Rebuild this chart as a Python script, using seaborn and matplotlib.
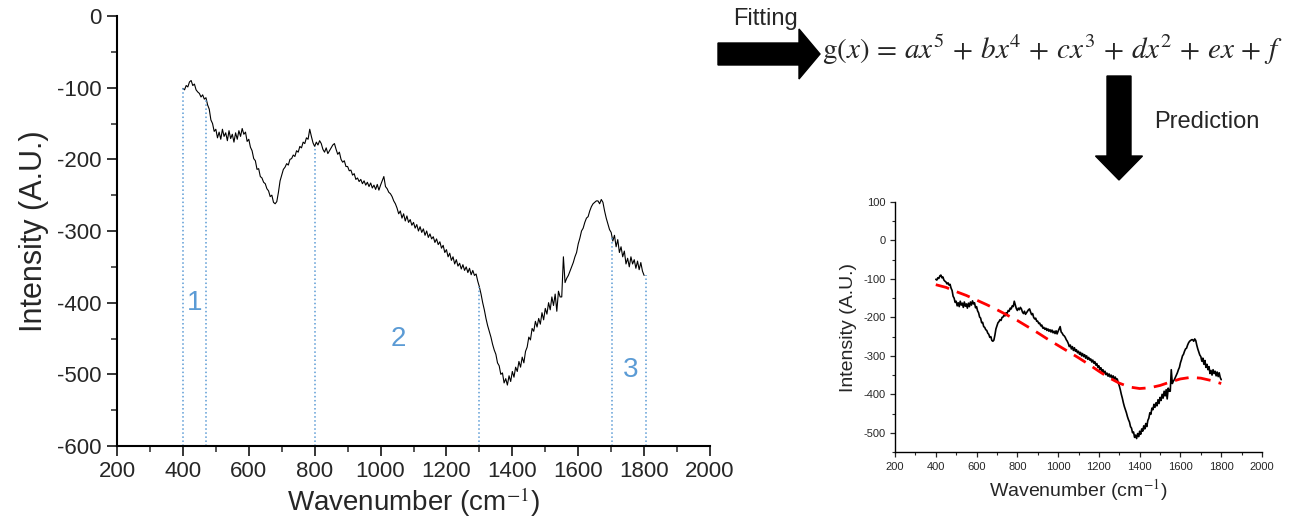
import numpy as np
import pandas as pd
import matplotlib
matplotlib.use('Agg')
import matplotlib.pyplot as plt
from matplotlib.patches import FancyArrow
from matplotlib.ticker import MultipleLocator
import seaborn as sns

# spectrum, every 5 cm-1 from 400 to 1800
wavenumber = np.arange(400, 1805, 5)
intensity = [
    -101, -103, -97, -99, -92, -90, -97, -95, -103, -106,
    -108, -113, -110, -116, -114, -124, -130, -145, -150, -161,
    -158, -170, -162, -172, -158, -168, -163, -174, -160, -171,
    -165, -176, -163, -172, -160, -168, -157, -165, -162, -175,
    -172, -183, -188, -199, -202, -214, -213, -224, -226, -232,
    -234, -241, -244, -252, -250, -260, -262, -259, -246, -230,
    -222, -214, -211, -206, -208, -200, -199, -194, -196, -188,
    -190, -182, -184, -176, -178, -170, -172, -158, -168, -177,
    -182, -176, -180, -174, -178, -186, -190, -184, -192, -188,
    -184, -180, -178, -186, -193, -190, -200, -204, -202, -210,
    -210, -216, -215, -222, -220, -228, -226, -231, -228, -234,
    -230, -236, -232, -238, -233, -240, -236, -242, -235, -243,
    -236, -230, -224, -238, -241, -246, -248, -252, -258, -262,
    -268, -276, -272, -282, -276, -286, -279, -288, -284, -292,
    -288, -296, -291, -300, -294, -302, -297, -306, -300, -309,
    -304, -311, -308, -316, -311, -319, -315, -324, -320, -330,
    -326, -336, -331, -341, -336, -346, -340, -349, -345, -353,
    -347, -355, -350, -358, -352, -361, -355, -362, -360, -370,
    -378, -388, -400, -410, -422, -432, -440, -448, -458, -466,
    -472, -484, -488, -500, -498, -512, -506, -515, -502, -510,
    -496, -504, -490, -496, -482, -490, -476, -484, -468, -462,
    -448, -452, -436, -440, -426, -434, -422, -430, -414, -424,
    -408, -416, -400, -410, -392, -404, -388, -412, -384, -392,
    -392, -336, -372, -366, -362, -356, -350, -344, -336, -330,
    -318, -310, -300, -296, -288, -282, -280, -272, -266, -262,
    -260, -258, -258, -262, -256, -260, -272, -282, -290, -298,
    -302, -314, -306, -322, -312, -330, -322, -336, -328, -346,
    -338, -350, -336, -346, -340, -352, -342, -354, -344, -356,
    -362,
]

# fitted polynomial (red dashed), read every 50 cm-1
fit_x = np.arange(400, 1850, 50)
fit_y = [-115, -122, -133, -143, -155, -167, -180, -194, -208, -224,
         -240, -257, -273, -289, -305, -322, -340, -357, -371, -381,
         -385, -383, -377, -368, -360, -356, -358, -364, -372]

# region boundaries and labels
bounds = [400, 470, 800, 1300, 1703, 1805]
region_labels = ['1', '2', '3']
region_x = [435, 1053, 1759]
region_y = [-401, -450, -494]

spec = pd.DataFrame({'x': wavenumber, 'y': intensity})
fit = pd.DataFrame({'x': fit_x, 'y': fit_y})

sns.set_style('white')
plt.rcParams['font.family'] = ['Liberation Sans', 'DejaVu Sans']
plt.rcParams['mathtext.fontset'] = 'stix'
plt.rcParams['axes.unicode_minus'] = False

fig = plt.figure(figsize=(12.99, 5.18), dpi=100)

# main spectrum
ax = fig.add_axes([117 / 1299, 1 - 446 / 518, 593 / 1299, 430 / 518])
sns.lineplot(data=spec, x='x', y='y', ax=ax, color='black', lw=0.8)
top = np.interp(bounds, wavenumber, intensity)
ax.vlines(bounds, -600, top, colors='#5B9BD5', linestyles=':', lw=1.1)
for lab, tx, ty in zip(region_labels, region_x, region_y):
    ax.text(tx, ty, lab, color='#5B9BD5', fontsize=20, ha='center', va='center')
ax.set_xlim(200, 2000)
ax.set_ylim(-600, 0)
ax.xaxis.set_major_locator(MultipleLocator(200))
ax.xaxis.set_minor_locator(MultipleLocator(100))
ax.yaxis.set_major_locator(MultipleLocator(100))
ax.yaxis.set_minor_locator(MultipleLocator(50))
ax.tick_params(which='major', direction='out', length=7, width=1.3, labelsize=16,
               left=True, bottom=True, pad=4)
ax.tick_params(which='minor', direction='out', length=4, width=1.1,
               left=True, bottom=True)
ax.set_xlabel('Wavenumber (cm$^{-1}$)', fontsize=20, labelpad=2)
ax.set_ylabel('Intensity (A.U.)', fontsize=22, labelpad=6)
sns.despine(ax=ax)
for s in ['left', 'bottom']:
    ax.spines[s].set_linewidth(1.5)
    ax.spines[s].set_color('black')

# predicted / fitted small plot
ax2 = fig.add_axes([895 / 1299, 1 - 452 / 518, 367 / 1299, 250 / 518])
sns.lineplot(data=spec, x='x', y='y', ax=ax2, color='black', lw=1.2)
sns.lineplot(data=fit, x='x', y='y', ax=ax2, color='#FF0000', lw=2,
             linestyle=(0, (5, 3)))
ax2.set_xlim(200, 2000)
ax2.set_ylim(-550, 100)
ax2.xaxis.set_major_locator(MultipleLocator(200))
ax2.xaxis.set_minor_locator(MultipleLocator(100))
ax2.yaxis.set_major_locator(MultipleLocator(100))
ax2.yaxis.set_minor_locator(MultipleLocator(50))
ax2.tick_params(which='major', direction='out', length=3.5, width=0.9, labelsize=8,
                left=True, bottom=True)
ax2.tick_params(which='minor', direction='out', length=2, width=0.8,
                left=True, bottom=True)
ax2.set_xlabel('Wavenumber (cm$^{-1}$)', fontsize=14)
ax2.set_ylabel('Intensity (A.U.)', fontsize=14)
sns.despine(ax=ax2)
for s in ['left', 'bottom']:
    ax2.spines[s].set_linewidth(1.0)
    ax2.spines[s].set_color('black')

# arrows and annotations in pixel coordinates
ov = fig.add_axes([0, 0, 1, 1])
ov.set_xlim(0, 1299)
ov.set_ylim(518, 0)
ov.axis('off')
ov.add_patch(FancyArrow(718, 54, 102, 0, width=22, head_width=50, head_length=21,
                        length_includes_head=True, color='black'))
ov.add_patch(FancyArrow(1119, 76, 0, 104, width=24, head_width=47, head_length=24,
                        length_includes_head=True, color='black'))
ov.text(766, 19, 'Fitting', fontsize=17, ha='center', va='center')
ov.text(1207, 122, 'Prediction', fontsize=17, ha='center', va='center')
ov.text(1052, 50,
        r'$\mathrm{g}(x)\,=\,ax^5\,+\,bx^4\,+\,cx^3\,+\,dx^2\,+\,ex\,+\,f$',
        fontsize=21, ha='center', va='center')

plt.savefig('out.png', dpi=100)
